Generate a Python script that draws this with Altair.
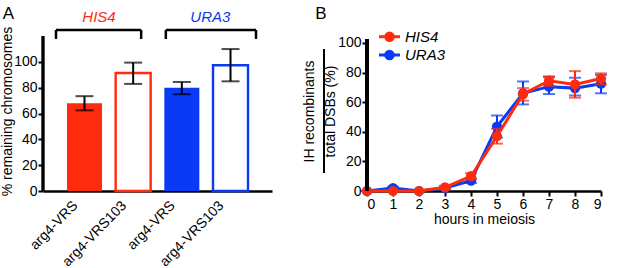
import altair as alt
import pandas as pd

RED = "#ff2b0e"
BLUE = "#0b3af5"
FONT = "Liberation Sans"

# ---------------- Panel A data ----------------
bar_keys = ["HIS4 VRS", "HIS4 VRS103", "URA3 VRS", "URA3 VRS103"]
bar_labels = ["arg4-VRS", "arg4-VRS103", "arg4-VRS", "arg4-VRS103"]
bar_gene = ["HIS4", "HIS4", "URA3", "URA3"]
bar_style = ["filled", "open", "filled", "open"]
bar_mean = [68, 91.5, 80, 97.5]
bar_lo = [62.5, 83, 75, 85]
bar_hi = [73.5, 99.5, 84.5, 110]

genes = ["HIS4", "URA3"]
bracket_from = ["HIS4 VRS", "URA3 VRS"]
bracket_to = ["HIS4 VRS103", "URA3 VRS103"]
bracket_top = 124.8
bracket_bottom = 117.8
bracket_label_y = 134.5

# ---------------- Panel B data ----------------
hours = [0, 1, 2, 3, 4, 5, 6, 7, 8, 9]
his4_mean = [0, 0, 0, 2.5, 10, 37, 65.5, 74.5, 72, 76]
his4_lo = [0, 0, 0, 1.5, 8, 32, 61, 71, 63, 72]
his4_hi = [0, 0, 0, 3.5, 12, 42, 69.5, 77.5, 81, 79.5]
ura3_mean = [0, 2, 0, 2, 7, 43.5, 66, 70.5, 69.5, 72.5]
ura3_lo = [0, 1, 0, 1, 5.5, 36, 58.5, 65.5, 64.5, 66]
ura3_hi = [0, 3, 0, 3, 8.5, 51, 74, 77, 76.5, 78.5]

color_scale = alt.Scale(domain=genes, range=[RED, BLUE])

bars = pd.DataFrame({
    "key": bar_keys, "label": bar_labels, "gene": bar_gene,
    "style": bar_style, "mean": bar_mean, "lo": bar_lo, "hi": bar_hi,
})

label_expr = " : ".join(
    f"datum.value == '{k}' ? '{l}'" for k, l in zip(bar_keys, bar_labels)
) + " : ''"

xA_scale = alt.Scale(domain=bar_keys, paddingInner=0.281, paddingOuter=0.493)
axisXA = alt.Axis(title=None, labelExpr=label_expr, labelAngle=-46,
                  labelAlign="right", labelBaseline="middle", ticks=False,
                  labelPadding=12, labelOffset=-9, domainWidth=2.5, labelFontSize=14,
                  labelOverlap=False)
yA_scale = alt.Scale(domain=[0, 139.5], nice=False, zero=True)
axisYA = alt.Axis(values=[0, 20, 40, 60, 80, 100], domain=False, grid=False,
                  tickSize=5, tickWidth=2, labelPadding=1, labelFontSize=14,
                  labelOverlap=False,
                  title="% remaining chromosomes", titleFontSize=14,
                  titleFontWeight="normal", titleX=-35.5, titleY=100,
                  titleBaseline="middle")

def xa(field):
    return alt.X(field, sort=bar_keys, scale=xA_scale, axis=axisXA)

def ya(field):
    return alt.Y(field, scale=yA_scale, axis=axisYA)

def yad(v):
    return alt.YDatum(v, scale=yA_scale, axis=axisYA)

baseA = alt.Chart(bars)
filled = baseA.mark_bar(strokeWidth=0).encode(
    x=xa("key:N"), y=ya("mean:Q"), color=alt.Color("gene:N", scale=color_scale, legend=None)
).transform_filter(alt.datum.style == "filled")
opened = baseA.mark_bar(fill="white", strokeWidth=2.4).encode(
    x=xa("key:N"), y=ya("mean:Q"), stroke=alt.Stroke("gene:N", scale=color_scale, legend=None)
).transform_filter(alt.datum.style == "open")
err_rule = baseA.mark_rule(color="black", strokeWidth=2).encode(
    x=xa("key:N"), y=ya("lo:Q"), y2="hi:Q")
cap_lo = baseA.mark_tick(color="black", thickness=2, size=18).encode(x=xa("key:N"), y=ya("lo:Q"))
cap_hi = baseA.mark_tick(color="black", thickness=2, size=18).encode(x=xa("key:N"), y=ya("hi:Q"))
y_line_A = baseA.mark_rule(color="black", strokeWidth=2.5).encode(
    x=alt.value(0), y=yad(0), y2=alt.datum(120))

brk = pd.DataFrame({"gene": genes, "from": bracket_from, "to": bracket_to})

def bracket(i, off_l, off_r, label_dx):
    d = alt.Chart(brk).transform_filter(alt.datum.gene == genes[i])
    top = d.mark_rule(color="black", strokeWidth=2.5, xOffset=off_l, x2Offset=off_r).encode(
        x=xa("from:N"), x2="to:N", y=yad(bracket_top))
    left = d.mark_rule(color="black", strokeWidth=2.5, xOffset=off_l).encode(
        x=xa("from:N"), y=yad(bracket_bottom), y2=alt.datum(bracket_top))
    right = d.mark_rule(color="black", strokeWidth=2.5, xOffset=off_r).encode(
        x=xa("to:N"), y=yad(bracket_bottom), y2=alt.datum(bracket_top))
    lab = d.mark_text(fontStyle="italic", fontSize=15, font=FONT, dx=label_dx,
                      baseline="middle").encode(
        x=xa("from:N"), y=yad(bracket_label_y),
        text="gene:N", color=alt.Color("gene:N", scale=color_scale, legend=None))
    return top + left + right + lab

letterA = alt.Chart(pd.DataFrame({"t": ["A"]})).mark_text(
    fontSize=17, font=FONT, baseline="middle", align="center").encode(
    x=alt.value(-34.5), y=alt.value(3), text="t:N")

panelA = alt.layer(
    filled, opened, err_rule, cap_lo, cap_hi, y_line_A,
    bracket(0, -28.5, 8, 14.5), bracket(1, -16, 25.5, 28.5), letterA
).properties(width=229, height=180)

# ---------------- Panel B ----------------
rows = []
for g, m, lo, hi in [("URA3", ura3_mean, ura3_lo, ura3_hi), ("HIS4", his4_mean, his4_lo, his4_hi)]:
    for h, a, b, c in zip(hours, m, lo, hi):
        rows.append({"hour": h, "gene": g, "mean": a, "lo": b, "hi": c})
tc = pd.DataFrame(rows)

xB_scale = alt.Scale(domain=[0, 9], nice=False)
axisXB = alt.Axis(values=hours, title="hours in meiosis", tickSize=5, tickWidth=2,
                  domainWidth=2.5, labelFontSize=14, titleFontSize=14,
                  titleFontWeight="normal", labelPadding=1, titlePadding=1,
                  labelOverlap=False, grid=False)
yB_scale = alt.Scale(domain=[0, 121.6], nice=False)
axisYB = alt.Axis(values=[0, 20, 40, 60, 80, 100], domain=False, grid=False,
                  tickSize=5, tickWidth=2, labelPadding=1, labelFontSize=14,
                  labelOverlap=False,
                  title=["IH recombinants", "total DSBs (%)"], titleFontSize=14,
                  titleFontWeight="normal", titleX=-58, titleY=100,
                  titleLineHeight=21, titleBaseline="middle")

def xb(field):
    return alt.X(field, scale=xB_scale, axis=axisXB)

def yb(field):
    return alt.Y(field, scale=yB_scale, axis=axisYB)

layersB = []
for g, col in [("URA3", BLUE), ("HIS4", RED)]:
    d = alt.Chart(tc).transform_filter(alt.datum.gene == g)
    layersB.append(d.mark_line(color=col, strokeWidth=3).encode(x=xb("hour:Q"), y=yb("mean:Q")))
    layersB.append(d.mark_rule(color=col, strokeWidth=2).encode(
        x=xb("hour:Q"), y=yb("lo:Q"), y2="hi:Q"))
    layersB.append(d.mark_tick(color=col, thickness=2, size=12, orient="horizontal").encode(
        x=xb("hour:Q"), y=yb("lo:Q")))
    layersB.append(d.mark_tick(color=col, thickness=2, size=12, orient="horizontal").encode(
        x=xb("hour:Q"), y=yb("hi:Q")))
    layersB.append(d.mark_point(color=col, filled=True, size=105, opacity=1).encode(
        x=xb("hour:Q"), y=yb("mean:Q")))

y_line_B = alt.Chart(tc).mark_rule(color="black", strokeWidth=2.5).encode(
    x=alt.value(0), y=alt.YDatum(0, scale=yB_scale, axis=axisYB), y2=alt.datum(102.5))
frac_bar = alt.Chart(tc).mark_rule(color="black", strokeWidth=1.5).encode(
    x=alt.value(-43), y=alt.value(38), y2=alt.value(162))

leg = pd.DataFrame({"gene": genes})
legend_layers = []
for i, (g, col) in enumerate(zip(genes, [RED, BLUE])):
    ly = [25.7, 44][i]
    d = alt.Chart(leg).transform_filter(alt.datum.gene == g)
    legend_layers.append(d.mark_rule(color=col, strokeWidth=3).encode(
        x=alt.value(12), x2=alt.value(33), y=alt.value(ly)))
    legend_layers.append(d.mark_point(color=col, filled=True, size=110, opacity=1).encode(
        x=alt.value(22.5), y=alt.value(ly)))
    legend_layers.append(d.mark_text(font=FONT, fontSize=15, fontStyle="italic",
                                     align="left", baseline="middle", color="black").encode(
        x=alt.value(38), y=alt.value(ly), text="gene:N"))

letterB = alt.Chart(pd.DataFrame({"t": ["B"]})).mark_text(
    fontSize=17, font=FONT, baseline="middle", align="center").encode(
    x=alt.value(-46), y=alt.value(2.5), text="t:N")

panelB = alt.layer(*layersB, y_line_B, frac_bar, *legend_layers, letterB).properties(
    width=234, height=180)

chart = alt.hconcat(panelA, panelB, spacing=30).properties(
    padding={"left": 0, "top": 4, "right": 0, "bottom": 0}
).configure(font=FONT).configure_view(stroke=None).configure_axis(
    labelColor="black", titleColor="black", domainColor="black", tickColor="black",
    labelFont=FONT, titleFont=FONT
)

chart.save("out.html", embed_options={"renderer": "svg", "actions": False})
